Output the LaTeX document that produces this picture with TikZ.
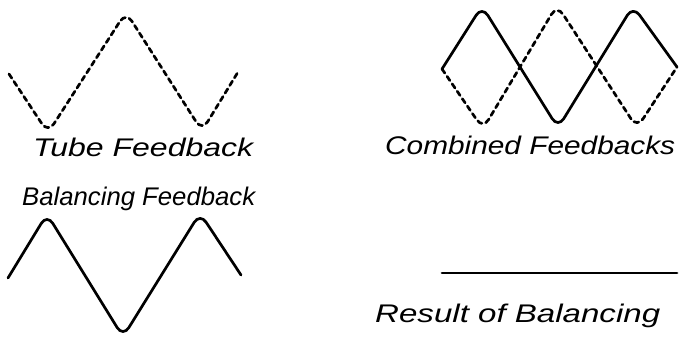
\documentclass[tikz,border=0pt]{standalone}
\usepackage{fontspec}
\setmainfont{Liberation Sans}
\usepackage{graphicx}
\newcommand\fitw[2]{\resizebox{#1}{\height}{#2}}
\begin{document}
\begin{tikzpicture}[x=1pt,y=-1pt,
  wave/.style={line width=2.7pt,rounded corners=11pt,line cap=round,line join=round},
  dwave/.style={wave,dash pattern=on 5pt off 4pt},
  lbl/.style={anchor=base west,inner sep=0pt,font=\fontsize{25.5}{28}\selectfont\itshape}]
\useasboundingbox (0,0) rectangle (680,339);
% Tube feedback
\coordinate (t0) at (9,74);
\coordinate (t1) at (48,133);
\coordinate (t2) at (126,12);
\coordinate (t3) at (202,131);
\coordinate (t4) at (238,72);
\draw[dwave] (t0) -- (t1) -- (t2) -- (t3) -- (t4);
\node[lbl] (tube) at (33,157) {\fitw{220pt}{Tube Feedback}};
% Combined
\coordinate (c0) at (442,69);
\coordinate (c1) at (482,6);
\coordinate (c2) at (558,128);
\coordinate (c3) at (633,6);
\coordinate (c4) at (677,67);
\draw[wave] (c0) -- (c1) -- (c2) -- (c3) -- (c4);
\coordinate (d1) at (483,129);
\coordinate (d2) at (557,5);
\coordinate (d3) at (637,128);
\draw[dwave] (c0) -- (d1) -- (d2) -- (d3) -- (c4);
\node[lbl] (comb) at (385,155) {\fitw{290pt}{Combined Feedbacks}};
% Balancing
\node[lbl] (bal) at (22,205) {\fitw{233pt}{Balancing Feedback}};
\coordinate (b0) at (8,278);
\coordinate (b1) at (47,214);
\coordinate (b2) at (123,337);
\coordinate (b3) at (200,213);
\coordinate (b4) at (241,275);
\draw[wave] (b0) -- (b1) -- (b2) -- (b3) -- (b4);
% Result
\coordinate (r0) at (442,273);
\coordinate (r1) at (677,273);
\draw[wave] (r0) -- (r1);
\node[lbl] (res) at (375,322) {\fitw{285pt}{Result of Balancing}};
\end{tikzpicture}
\end{document}
